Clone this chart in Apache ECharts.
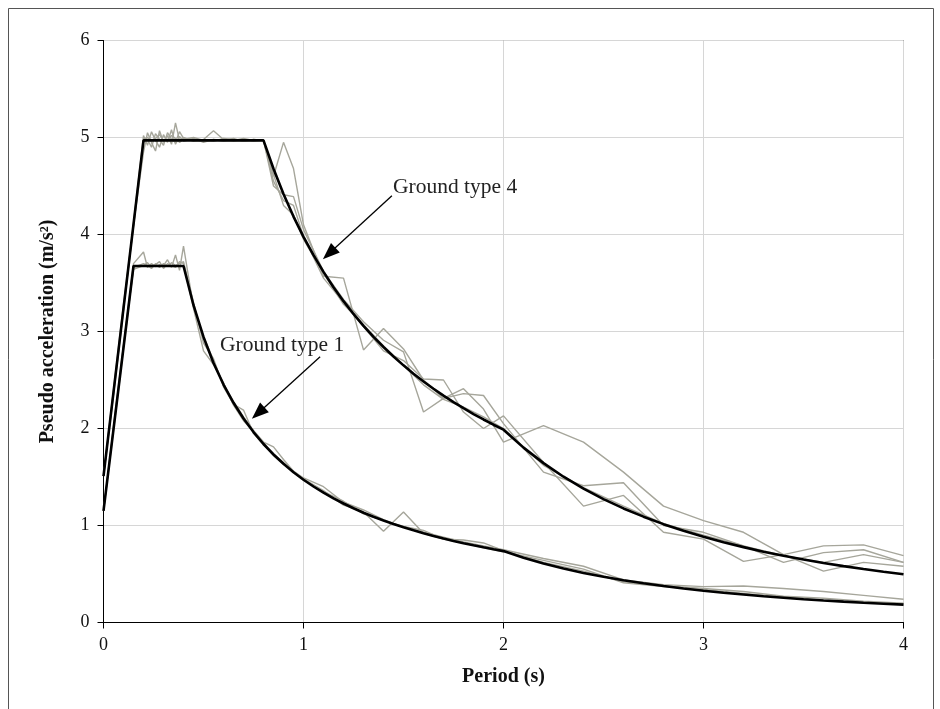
<!DOCTYPE html>
<html>
<head>
<meta charset="utf-8">
<script src="https://cdn.jsdelivr.net/npm/echarts@6/dist/echarts.min.js"></script>
<style>html,body{margin:0;padding:0;background:#fff}#c{width:940px;height:709px}</style>
</head>
<body>
<div id="c"></div>
<script>
// ---- Design spectra (black) ----
const t4Black = [0, 0.2, 0.8, 0.85, 0.9, 0.95, 1.0, 1.05, 1.1, 1.15, 1.2, 1.25, 1.3, 1.35, 1.4, 1.45, 1.5, 1.55, 1.6, 1.65, 1.7, 1.75, 1.8, 1.85, 1.9, 1.95, 2.0, 2.1, 2.2, 2.3, 2.4, 2.5, 2.6, 2.7, 2.8, 2.9, 3.0, 3.1, 3.2, 3.3, 3.4, 3.5, 3.6, 3.7, 3.8, 3.9, 4.0];
const v4Black = [1.51, 4.97, 4.97, 4.678, 4.418, 4.185, 3.976, 3.787, 3.615, 3.457, 3.313, 3.181, 3.058, 2.945, 2.840, 2.742, 2.651, 2.565, 2.485, 2.410, 2.339, 2.272, 2.209, 2.149, 2.093, 2.039, 1.988, 1.803, 1.643, 1.503, 1.381, 1.272, 1.176, 1.091, 1.014, 0.946, 0.884, 0.827, 0.777, 0.730, 0.688, 0.649, 0.614, 0.581, 0.551, 0.523, 0.497];
const t1Black = [0, 0.15, 0.4, 0.45, 0.5, 0.55, 0.6, 0.65, 0.7, 0.75, 0.8, 0.85, 0.9, 0.95, 1.0, 1.05, 1.1, 1.15, 1.2, 1.25, 1.3, 1.35, 1.4, 1.45, 1.5, 1.55, 1.6, 1.65, 1.7, 1.75, 1.8, 1.85, 1.9, 1.95, 2.0, 2.1, 2.2, 2.3, 2.4, 2.5, 2.6, 2.7, 2.8, 2.9, 3.0, 3.1, 3.2, 3.3, 3.4, 3.5, 3.6, 3.7, 3.8, 3.9, 4.0];
const v1Black = [1.15, 3.675, 3.675, 3.271, 2.944, 2.676, 2.453, 2.265, 2.103, 1.963, 1.840, 1.732, 1.636, 1.549, 1.472, 1.402, 1.338, 1.280, 1.227, 1.178, 1.132, 1.090, 1.051, 1.015, 0.981, 0.950, 0.920, 0.892, 0.866, 0.841, 0.818, 0.796, 0.775, 0.755, 0.736, 0.668, 0.608, 0.557, 0.511, 0.471, 0.436, 0.404, 0.376, 0.350, 0.327, 0.306, 0.288, 0.270, 0.255, 0.240, 0.227, 0.215, 0.204, 0.194, 0.184];

// ---- Record spectra (grey), shared periods ----
const tRec = [0, 0.05, 0.1, 0.15, 0.2, 0.22, 0.24, 0.26, 0.28, 0.3, 0.32, 0.34, 0.36, 0.38, 0.4, 0.45, 0.5, 0.55, 0.6, 0.65, 0.7, 0.75, 0.8, 0.85, 0.9, 0.95, 1.0, 1.1, 1.2, 1.3, 1.4, 1.5, 1.6, 1.7, 1.8, 1.9, 2.0, 2.2, 2.4, 2.6, 2.8, 3.0, 3.2, 3.4, 3.6, 3.8, 4.0];
const rec4a = [1.51, 2.40, 3.28, 4.10, 4.85, 5.05, 4.95, 4.86, 5.07, 4.95, 5.02, 4.93, 5.15, 4.97, 5.00, 4.96, 4.98, 5.07, 4.98, 4.96, 4.97, 4.96, 4.97, 4.60, 4.95, 4.68, 4.10, 3.57, 3.55, 2.81, 3.03, 2.82, 2.50, 2.31, 2.41, 2.20, 1.86, 2.03, 1.86, 1.55, 1.20, 1.05, 0.93, 0.70, 0.79, 0.80, 0.69];
const rec4b = [1.51, 2.35, 3.22, 4.12, 5.02, 4.92, 5.06, 4.97, 4.90, 5.03, 4.95, 5.08, 4.93, 5.01, 4.96, 4.99, 4.95, 4.98, 4.97, 4.99, 4.96, 4.98, 4.97, 4.50, 4.41, 4.39, 4.05, 3.62, 3.33, 3.10, 2.91, 2.79, 2.17, 2.31, 2.36, 2.34, 2.05, 1.55, 1.41, 1.44, 1.00, 0.93, 0.79, 0.62, 0.72, 0.75, 0.62];
const rec4c = [1.51, 2.38, 3.25, 4.08, 4.95, 4.98, 4.90, 5.04, 4.98, 4.92, 5.05, 4.98, 4.95, 5.06, 4.99, 4.97, 4.96, 4.98, 4.96, 4.97, 4.99, 4.97, 4.97, 4.55, 4.35, 4.30, 3.98, 3.55, 3.30, 3.05, 2.80, 2.70, 2.51, 2.50, 2.17, 2.00, 2.13, 1.65, 1.20, 1.31, 0.93, 0.86, 0.63, 0.70, 0.53, 0.62, 0.58];
const rec4d = [1.51, 2.36, 3.23, 4.10, 4.98, 5.00, 4.96, 4.99, 5.03, 4.97, 4.98, 5.02, 4.99, 4.95, 4.98, 5.00, 4.97, 4.96, 4.99, 4.98, 4.96, 4.98, 4.97, 4.62, 4.30, 4.20, 3.95, 3.60, 3.28, 3.07, 2.85, 2.65, 2.45, 2.30, 2.22, 2.12, 2.00, 1.62, 1.39, 1.20, 1.02, 0.90, 0.79, 0.69, 0.62, 0.70, 0.62];
const rec1a = [1.15, 2.00, 2.85, 3.70, 3.82, 3.66, 3.70, 3.67, 3.69, 3.68, 3.74, 3.66, 3.79, 3.63, 3.88, 3.25, 2.95, 2.70, 2.45, 2.28, 2.12, 1.98, 1.86, 1.81, 1.68, 1.56, 1.49, 1.40, 1.24, 1.16, 1.06, 0.98, 0.93, 0.88, 0.83, 0.79, 0.75, 0.66, 0.58, 0.44, 0.39, 0.37, 0.376, 0.35, 0.32, 0.28, 0.24];
const rec1b = [1.15, 1.98, 2.82, 3.66, 3.70, 3.68, 3.65, 3.70, 3.66, 3.70, 3.67, 3.71, 3.68, 3.70, 3.72, 3.30, 2.88, 2.72, 2.43, 2.25, 2.19, 1.95, 1.83, 1.74, 1.65, 1.55, 1.48, 1.36, 1.21, 1.14, 0.94, 1.14, 0.92, 0.86, 0.85, 0.82, 0.74, 0.62, 0.53, 0.42, 0.38, 0.35, 0.32, 0.27, 0.25, 0.22, 0.20];
const rec1c = [1.15, 2.02, 2.86, 3.64, 3.68, 3.71, 3.66, 3.69, 3.72, 3.65, 3.70, 3.68, 3.66, 3.72, 3.70, 3.24, 2.80, 2.66, 2.47, 2.24, 2.08, 1.97, 1.85, 1.72, 1.63, 1.56, 1.47, 1.35, 1.25, 1.12, 1.05, 0.99, 0.95, 0.86, 0.82, 0.77, 0.73, 0.64, 0.55, 0.41, 0.37, 0.34, 0.30, 0.26, 0.23, 0.21, 0.19];

// ---- Axis ticks / labels ----
const xTicks = [0, 1, 2, 3, 4];
const yTicks = [0, 1, 2, 3, 4, 5, 6];
const xName = 'Period (s)';
const yName = 'Pseudo acceleration (m/s\u00B2)';
// annotations: [label, textPos(T,Sa), tail(T,Sa), tip(T,Sa)]
const annotations = [
  ['Ground type 4', [1.758, 4.49], [1.442, 4.40], [1.097, 3.745]],
  ['Ground type 1', [0.893, 2.86], [1.083, 2.74], [0.742, 2.10]]
];

const FONT = '"Liberation Serif", "DejaVu Serif", serif';
const pairs = (t, v) => t.map((x, i) => [x, v[i]]);
const grey = '#a6a69b';
const recs = [rec4a, rec4b, rec4c, rec4d, rec1a, rec1b, rec1c];

const series = recs.map(r => ({
  type: 'line', data: pairs(tRec, r), symbol: 'none', silent: true,
  lineStyle: { color: grey, width: 1.4 }, z: 2
}));
series.push({ type: 'line', data: pairs(t4Black, v4Black), symbol: 'none', lineStyle: { color: '#000', width: 2.6 }, z: 3 });
series.push({ type: 'line', data: pairs(t1Black, v1Black), symbol: 'none', lineStyle: { color: '#000', width: 2.6 }, z: 3 });

const chart = echarts.init(document.getElementById('c'), null, { renderer: 'canvas' });
chart.setOption({
  animation: false,
  backgroundColor: '#fff',
  grid: { left: 103.5, right: 36.5, top: 40.5, bottom: 86.5, show: true, borderColor: '#000', borderWidth: 1, backgroundColor: 'transparent' },
  xAxis: {
    type: 'value', min: xTicks[0], max: xTicks[xTicks.length - 1], interval: 1,
    name: xName, nameLocation: 'middle', nameGap: 44,
    nameTextStyle: { fontFamily: FONT, fontWeight: 'bold', fontSize: 20, color: '#111' },
    axisLine: { lineStyle: { color: '#000', width: 1 } },
    axisTick: { show: true, inside: false, length: 6, lineStyle: { color: '#000' } },
    axisLabel: { fontFamily: FONT, fontSize: 18, color: '#111', margin: 14 },
    splitLine: { show: true, lineStyle: { color: '#d6d6d6', width: 1 } }
  },
  yAxis: {
    type: 'value', min: yTicks[0], max: yTicks[yTicks.length - 1], interval: 1,
    name: yName, nameLocation: 'middle', nameGap: 46, nameRotate: 90,
    nameTextStyle: { fontFamily: FONT, fontWeight: 'bold', fontSize: 20, color: '#111' },
    axisLine: { show: true, lineStyle: { color: '#000', width: 1 } },
    axisTick: { show: true, inside: false, length: 6, lineStyle: { color: '#000' } },
    axisLabel: { fontFamily: FONT, fontSize: 18, color: '#111', margin: 14 },
    splitLine: { show: true, lineStyle: { color: '#d6d6d6', width: 1 } }
  },
  series: series
});

const g = [{ type: 'rect', shape: { x: 8.5, y: 8.5, width: 925, height: 720 }, style: { fill: 'none', stroke: '#555', lineWidth: 1 }, z: 0, silent: true }];
annotations.forEach(a => {
  const tp = chart.convertToPixel({ gridIndex: 0 }, a[1]);
  const tail = chart.convertToPixel({ gridIndex: 0 }, a[2]);
  const tip = chart.convertToPixel({ gridIndex: 0 }, a[3]);
  const dx = tip[0] - tail[0], dy = tip[1] - tail[1];
  const L = Math.sqrt(dx * dx + dy * dy), ux = dx / L, uy = dy / L;
  const hl = 17, hw = 6.5;
  const bx = tip[0] - ux * hl, by = tip[1] - uy * hl;
  g.push({ type: 'line', shape: { x1: tail[0], y1: tail[1], x2: bx + ux * 2, y2: by + uy * 2 }, style: { stroke: '#000', lineWidth: 1.3 }, z: 10 });
  g.push({ type: 'polygon', shape: { points: [[tip[0], tip[1]], [bx - uy * hw, by + ux * hw], [bx + uy * hw, by - ux * hw]] }, style: { fill: '#000' }, z: 10 });
  g.push({ type: 'text', x: tp[0], y: tp[1], style: { text: a[0], fontFamily: FONT, fontSize: 21.5, fill: '#222', align: 'center', verticalAlign: 'middle' }, z: 10 });
});
chart.setOption({ graphic: g });
</script>
</body>
</html>
